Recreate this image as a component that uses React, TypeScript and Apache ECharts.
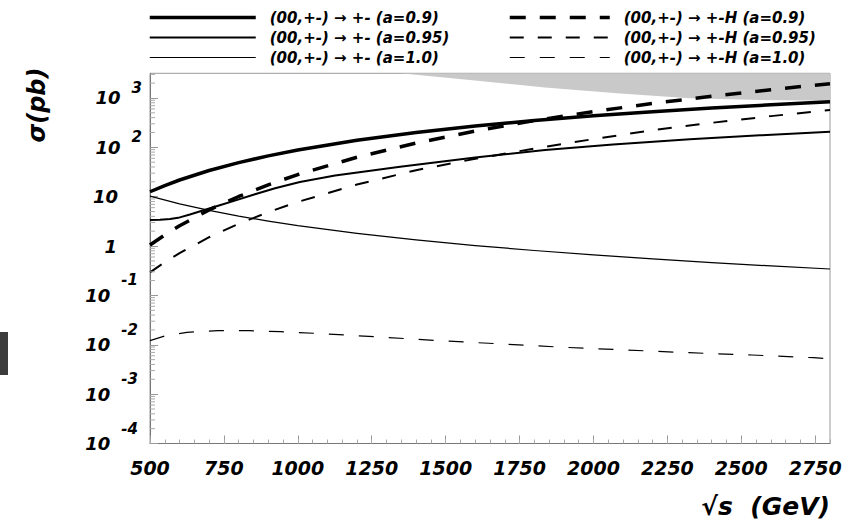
import React, { useEffect, useRef } from "react";
import * as echarts from "echarts";

// ---------- data (sqrt(s) in GeV, sigma in pb) ----------
const seriesNames = [
  "(00,+-) → +- (a=0.9)",
  "(00,+-) → +- (a=0.95)",
  "(00,+-) → +- (a=1.0)",
  "(00,+-) → +-H (a=0.9)",
  "(00,+-) → +-H (a=0.95)",
  "(00,+-) → +-H (a=1.0)",
];

const pm09: [number, number][] = [
  [500, 12.6], [550, 16.8], [600, 21.8], [700, 33.9], [800, 49.0], [900, 67.2], [1000, 88.3],
  [1200, 139], [1400, 200], [1600, 271], [1800, 350], [2000, 436], [2200, 528], [2400, 626],
  [2600, 728], [2800, 834],
];
const pm095: [number, number][] = [
  [500, 3.37], [534, 3.40], [568, 3.53], [595, 3.73], [635, 4.35], [692, 5.56], [736, 6.73],
  [787, 8.34], [855, 11.2], [923, 14.8], [1007, 19.9], [1126, 26.9], [1346, 40.5], [1600, 62.3],
  [1836, 88.3], [2066, 114], [2326, 145.6], [2563, 175], [2800, 207],
];
const pm10: [number, number][] = [
  [500, 10.3], [600, 7.16], [700, 5.27], [800, 4.04], [900, 3.2], [1000, 2.59], [1200, 1.81],
  [1400, 1.33], [1600, 1.025], [1800, 0.813], [2000, 0.661], [2200, 0.549], [2400, 0.463],
  [2600, 0.396], [2800, 0.343],
];
const pmH09: [number, number][] = [
  [500, 1.05], [550, 1.68], [600, 2.58], [700, 5.4], [800, 10.1], [900, 17.4], [1000, 28.1],
  [1200, 62.9], [1400, 122], [1600, 214], [1800, 347], [2000, 531], [2200, 774], [2400, 1084],
  [2600, 1475], [2800, 1950],
];
const pmH095: [number, number][] = [
  [500, 0.294], [550, 0.47], [600, 0.719], [700, 1.51], [800, 2.82], [900, 4.86], [1000, 7.85],
  [1200, 17.6], [1400, 34.4], [1600, 58.6], [1800, 94.4], [2000, 147], [2200, 223], [2400, 314],
  [2600, 429], [2800, 570],
];
const pmH10: [number, number][] = [
  [500, 0.0121], [550, 0.0151], [625, 0.0179], [730, 0.0193], [837, 0.0193], [942, 0.0184],
  [1055, 0.0171], [1260, 0.0146], [1477, 0.0121], [1690, 0.0104], [1900, 0.00889],
  [2112, 0.00784], [2323, 0.00691], [2535, 0.00621], [2744, 0.00547], [2800, 0.0052],
];
// excluded (shaded) region lower boundary
const shadedBoundary: [number, number][] = [
  [1346, 3162], [1582, 2311], [1836, 1629], [2090, 1233], [2326, 986], [2563, 910], [2800, 881],
];

const xMin = 500;
const xMax = 2800;
const xMajor = 250;
const xMinor = 50;
const yMin = 1e-4;
const yMax = 3162.2776601683795;
const yDecadeExponents = [-4, -3, -2, -1, 0, 1, 2, 3];
const yMinorMultipliers = [2, 3, 4, 5, 6, 7, 8, 9];

const FONT = "'DejaVu Sans', sans-serif";
const txt = { fontFamily: FONT, fontWeight: "bold" as const, fontStyle: "italic" as const, color: "#000" };

export default function App() {
  const ref = useRef<HTMLDivElement>(null);

  useEffect(() => {
    if (!ref.current) return;
    const chart = echarts.init(ref.current, undefined, { renderer: "svg" });

    const yMinorTicks: [number, number][] = [];
    yDecadeExponents.forEach((e) => {
      yMinorMultipliers.forEach((m) => {
        const v = m * Math.pow(10, e);
        if (v < yMax) yMinorTicks.push([xMin, v]);
      });
    });

    const styles = [
      { width: 3.5, type: "solid" },
      { width: 2, type: "solid" },
      { width: 1.2, type: "solid" },
      { width: 3.5, type: [16, 14] },
      { width: 2, type: [14, 14] },
      { width: 1.2, type: [15, 15] },
    ];
    const datas = [pm09, pm095, pm10, pmH09, pmH095, pmH10];

    const lineSeries = datas.map((d, i) => ({
      name: seriesNames[i],
      type: "line",
      data: d,
      symbol: "none",
      smooth: false,
      itemStyle: { color: "#000" },
      lineStyle: { color: "#000", width: styles[i].width, type: styles[i].type as any, join: "round" },
      z: 3,
      silent: true,
    }));

    const legendItems = seriesNames.map((n, i) => ({
      name: n,
      lineStyle: { width: styles[i].width, type: styles[i].type as any, color: "#000" },
    }));

    const legendText = { ...txt, fontSize: 15, padding: [0, 0, 0, 9] };
    const legendCommon = {
      top: 10, orient: "vertical", padding: 0, itemHeight: 14, itemGap: 5,
      selectedMode: false, textStyle: legendText,
      itemStyle: { opacity: 0 },
    };

    const option: any = {
      animation: false,
      grid: {
        left: 150,
        right: 37,
        top: 73.3,
        bottom: 77.5,
        show: true,
        borderColor: "#9a9a9a",
        borderWidth: 1,
      },
      legend: [
        { ...legendCommon, left: 148, itemWidth: 106, data: legendItems.slice(0, 3) },
        { ...legendCommon, left: 508, itemWidth: 100, data: legendItems.slice(3) },
      ],
      xAxis: [
        {
          type: "value", min: xMin, max: xMax, interval: xMajor, position: "bottom",
          axisLine: { show: true, lineStyle: { color: "#777" } },
          axisTick: { inside: true, length: 8, lineStyle: { color: "#999" } },
          axisLabel: { ...txt, fontSize: 19, margin: 15, showMaxLabel: false, formatter: (v: number) => String(v) },
          splitLine: { show: false },
          name: "√s  (GeV)", nameLocation: "end", nameGap: 0,
          nameTextStyle: { ...txt, fontSize: 25, align: "right", verticalAlign: "top", padding: [50, 0, 0, 0] },
        },
        {
          type: "value", min: xMin, max: xMax, interval: xMinor, position: "bottom",
          axisLine: { show: false },
          axisTick: { inside: true, length: 4, lineStyle: { color: "#aaa" } },
          axisLabel: { show: false },
          splitLine: { show: false },
        },
      ],
      yAxis: {
        type: "log", logBase: 10, min: yMin, max: yMax,
        axisLine: { show: true, lineStyle: { color: "#777" } },
        axisTick: { inside: true, length: 8, lineStyle: { color: "#999" } },
        splitLine: { show: false },
        axisLabel: {
          margin: 8, showMaxLabel: false,
          formatter: (v: number) => {
            const lg = Math.log10(v);
            const e = Math.round(lg);
            if (Math.abs(lg - e) > 1e-6) return "";
            if (e === 1) return "{p|10}";
            if (e === 0) return "{q|1}";
            if (e < 0) return `{b|10}{n|${e}}`;
            return `{b|10}{e|${e}}`;
          },
          rich: {
            b: { ...txt, fontSize: 18, lineHeight: 18 },
            p: { ...txt, fontSize: 18, lineHeight: 18, padding: [0, 24, 0, 0] },
            q: { ...txt, fontSize: 18, lineHeight: 18, padding: [0, 25, 0, 0] },
            e: { ...txt, fontSize: 15, lineHeight: 15, padding: [0, 0, 20, 11] },
            n: { ...txt, fontSize: 15, lineHeight: 15, padding: [0, 4, 30, 11] },
          },
        },
      },
      series: [
        {
          type: "line", data: shadedBoundary, symbol: "none", silent: true, z: 1,
          lineStyle: { width: 0 },
          areaStyle: { color: "#c9c9c9", opacity: 1, origin: "end" },
        },
        ...lineSeries,
        {
          type: "custom", coordinateSystem: "cartesian2d", data: yMinorTicks, silent: true, z: 5,
          encode: { x: 0, y: 1 },
          renderItem: (_p: any, api: any) => {
            const pt = api.coord([api.value(0), api.value(1)]);
            return {
              type: "line",
              shape: { x1: pt[0], y1: pt[1], x2: pt[0] + 5, y2: pt[1] },
              style: { stroke: "#aaa", lineWidth: 1 },
            };
          },
        },
      ],
      graphic: [
        {
          type: "text", x: 37, y: 105, rotation: Math.PI / 2,
          style: { text: "σ(pb)", fontFamily: FONT, fontWeight: "bold", fontStyle: "italic", fontSize: 24, fill: "#000", align: "center", verticalAlign: "middle" },
        },
        { type: "rect", shape: { x: 0, y: 332, width: 8, height: 43 }, style: { fill: "#3c3c3c" } },
      ],
    };

    chart.setOption(option);
    return () => chart.dispose();
  }, []);

  return (
    <div
      ref={ref}
      style={{ position: "absolute", left: 0, top: 0, width: 867, height: 521, background: "#fff" }}
    />
  );
}
